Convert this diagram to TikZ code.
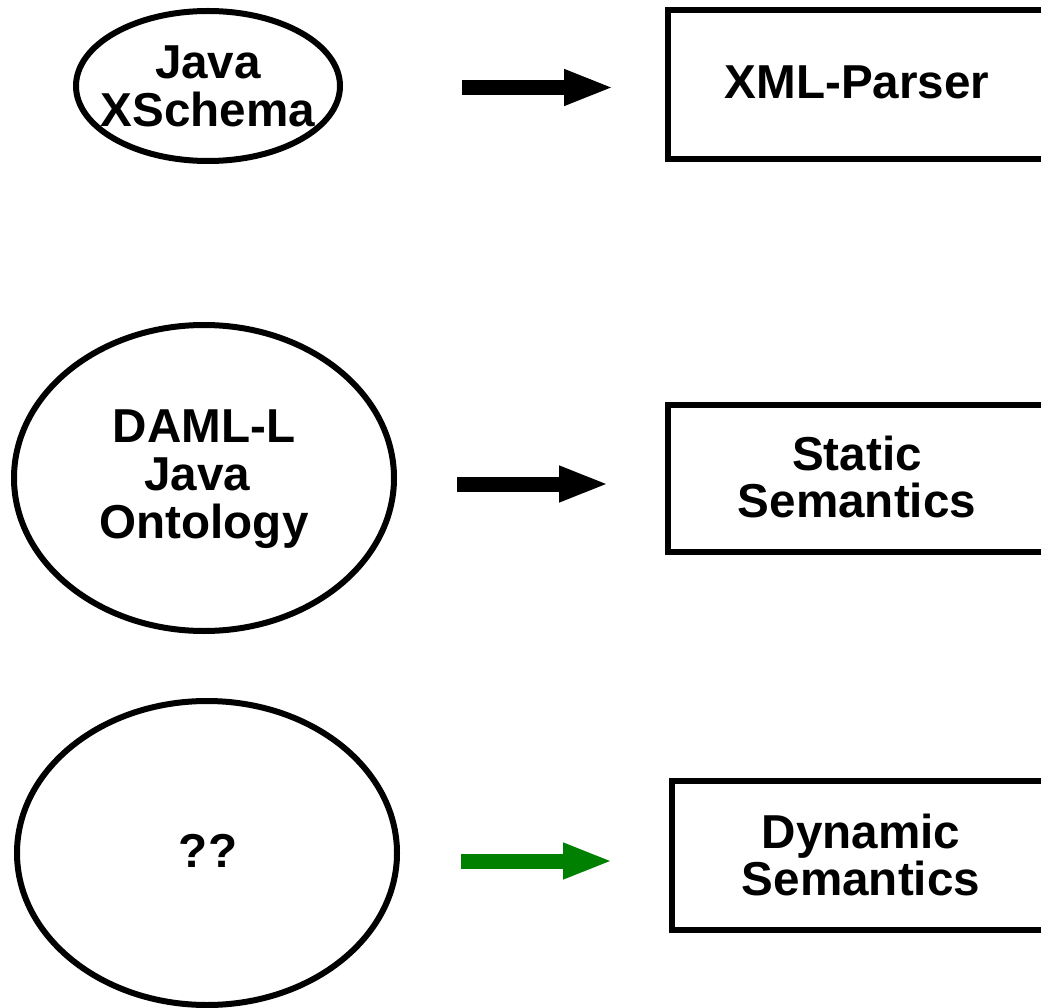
\documentclass[tikz,border=0pt]{standalone}
\usepackage{fontspec}
\setmainfont{Liberation Sans}
\usetikzlibrary{arrows.meta,shapes.geometric}
\definecolor{arrgreen}{RGB}{0,128,0}
\begin{document}
\begin{tikzpicture}[x=1pt,y=-1pt,
  oval/.style={draw,line width=6pt,ellipse,inner sep=0pt},
  box/.style={draw,line width=6pt},
  txt/.style={font=\fontsize{47.6}{47.8}\selectfont\bfseries,align=center,inner sep=0pt},
  fat/.style={line width=15pt,-{Triangle[length=50pt,width=33pt]}}]
\useasboundingbox (0,0) rectangle (1041,1008);
% ellipses
\node[oval,minimum width=264pt,minimum height=150pt] (e1) at (208,86) {};
\node[txt] (t1) at (208,86) {Java\\XSchema};
\node[oval,minimum width=380pt,minimum height=306pt] (e2) at (204,478) {};
\node[txt] (t2) at (204,479) {DAML-L\\Java\kern0.28em\\Ontology};
\node[oval,minimum width=380pt,minimum height=304pt] (e3) at (207,853) {};
\node[txt] (t3) at (208,851) {??};
% boxes
\draw[box] (668,10) rectangle (1050,159);
\node[txt] (b1) at (857,82) {XML-Parser};
\draw[box] (668,405) rectangle (1050,552);
\node[txt] (b2) at (857,477) {Static\\Semantics};
\draw[box] (672,781) rectangle (1050,930);
\node[txt] (b3) at (861,855) {Dynamic\\Semantics};
% arrows
\coordinate (a1s) at (462,87.5); \coordinate (a1e) at (614,87.5);
\coordinate (a2s) at (457,484); \coordinate (a2e) at (609,484);
\coordinate (a3s) at (461,861); \coordinate (a3e) at (613,861);
\draw[fat] (a1s) -- (a1e);
\draw[fat] (a2s) -- (a2e);
\draw[fat,arrgreen] (a3s) -- (a3e);
\end{tikzpicture}
\end{document}
